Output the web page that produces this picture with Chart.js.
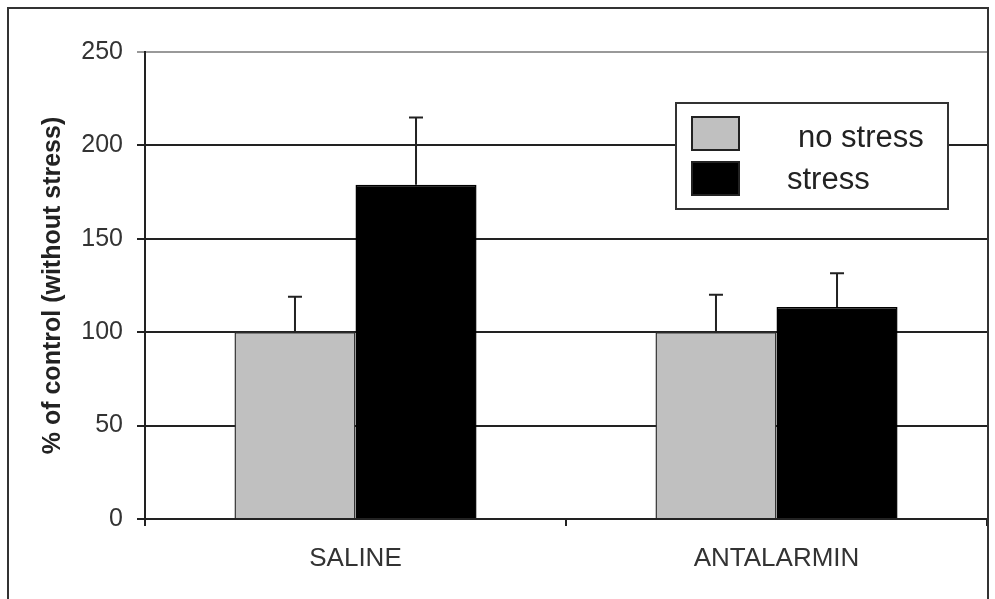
<!DOCTYPE html>
<html>
<head>
<meta charset="utf-8">
<script src="https://cdn.jsdelivr.net/npm/chart.js@4.4.1/dist/chart.umd.min.js"></script>
<style>
    body { margin: 0; background: #fff; }
    #wrap { position: relative; width: 995px; height: 599px; overflow: hidden; }
    #frame {
        position: absolute; left: 7px; top: 7px; width: 978px; height: 640px;
        border: 2px solid #333; pointer-events: none;
    }
</style>
</head>
<body>
<div id="wrap">
    <canvas id="barChart" width="995" height="599"></canvas>
    <div id="frame"></div>
</div>
<script>
// values
const categories = ['SALINE', 'ANTALARMIN'];
const noStress = [100, 100];
const noStressErr = [19, 20];
const stress = [179, 113.5];
const stressErr = [36, 18];
const yTicks = [0, 50, 100, 150, 200, 250];

const FONT = "'Liberation Sans', Arial, sans-serif";

// --- error bars (only the upper whisker, like the original) ---
const errorBars = {
    id: 'errorBars',
    afterDatasetsDraw(chart) {
        const ctx = chart.ctx;
        const y = chart.scales.y;
        ctx.save();
        ctx.strokeStyle = '#222';
        ctx.lineWidth = 2;
        chart.data.datasets.forEach((ds, i) => {
            const meta = chart.getDatasetMeta(i);
            meta.data.forEach((bar, j) => {
                const top = y.getPixelForValue(ds.data[j] + ds.errors[j]);
                ctx.beginPath();
                ctx.moveTo(bar.x, bar.y);
                ctx.lineTo(bar.x, top);
                ctx.moveTo(bar.x - 7, top);
                ctx.lineTo(bar.x + 7, top);
                ctx.stroke();
            });
        });
        ctx.restore();
    }
};

// --- boxed legend in the upper right of the plot ---
const boxLegend = {
    id: 'boxLegend',
    afterDraw(chart) {
        const ctx = chart.ctx;
        const area = chart.chartArea;
        const left = area.right - 311;
        const top = area.top + 51;
        ctx.save();
        ctx.fillStyle = '#fff';
        ctx.strokeStyle = '#333';
        ctx.lineWidth = 2;
        ctx.fillRect(left, top, 272, 106);
        ctx.strokeRect(left, top, 272, 106);

        const rows = [
            { swY: 14, textX: 122, base: 44 },
            { swY: 59, textX: 111, base: 86 }
        ];
        chart.data.datasets.forEach((ds, i) => {
            const r = rows[i];
            ctx.fillStyle = ds.backgroundColor;
            ctx.fillRect(left + 16, top + r.swY, 47, 33);
            ctx.strokeStyle = '#222';
            ctx.lineWidth = 2;
            ctx.strokeRect(left + 16, top + r.swY, 47, 33);

            ctx.fillStyle = '#222';
            ctx.font = '31px ' + FONT;
            ctx.textBaseline = 'alphabetic';
            ctx.fillText(ds.label, left + r.textX, top + r.base);
        });
        ctx.restore();
    }
};

function makeChart() {
    const ctx = document.getElementById('barChart');
    new Chart(ctx, {
        type: 'bar',
        data: {
            labels: categories,
            datasets: [{
                label: 'no stress',
                data: noStress,
                errors: noStressErr,
                backgroundColor: '#c0c0c0',
                borderColor: '#333',
                borderWidth: 1.5,
                barPercentage: 1,
                categoryPercentage: 0.575
            }, {
                label: 'stress',
                data: stress,
                errors: stressErr,
                backgroundColor: '#000000',
                borderColor: '#000',
                borderWidth: 1.5,
                barPercentage: 1,
                categoryPercentage: 0.575
            }]
        },
        options: {
            responsive: false,
            animation: false,
            layout: { padding: { left: 0, top: 52, right: 8, bottom: 0 } },
            plugins: {
                legend: { display: false },
                tooltip: { enabled: false }
            },
            scales: {
                x: {
                    afterFit: (s) => { s.height = 80; },
                    grid: {
                        offset: true,
                        drawOnChartArea: false,
                        drawTicks: true,
                        tickLength: 7,
                        color: '#222',
                        lineWidth: 2
                    },
                    border: { display: true, color: '#222', width: 2 },
                    ticks: {
                        color: '#333',
                        padding: 17,
                        font: { family: FONT, size: 26 }
                    }
                },
                y: {
                    min: 0,
                    max: 250,
                    afterFit: (s) => { s.width = 145; },
                    afterBuildTicks: (s) => { s.ticks = yTicks.map(v => ({ value: v })); },
                    grid: {
                        color: (c) => (c.tick && c.tick.value === 250 ? '#999' : '#222'),
                        lineWidth: 2,
                        drawTicks: true,
                        tickLength: 8
                    },
                    border: { display: true, color: '#222', width: 2 },
                    ticks: {
                        color: '#333',
                        padding: 14,
                        font: { family: FONT, size: 25 }
                    },
                    title: {
                        display: true,
                        text: '% of control (without stress)',
                        color: '#222',
                        padding: { top: 38, bottom: 0 },
                        font: { family: FONT, size: 25, weight: 'bold' }
                    }
                }
            }
        },
        plugins: [errorBars, boxLegend]
    });
}

document.addEventListener('DOMContentLoaded', makeChart);
</script>
</body>
</html>
